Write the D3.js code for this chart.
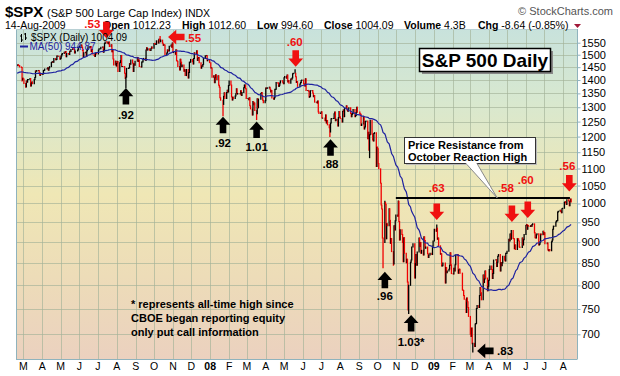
<!DOCTYPE html>
<html><head><meta charset="utf-8">
<script src="https://cdn.jsdelivr.net/npm/d3@7"></script>
<style>
body{margin:0;background:#fff}
svg{display:block}
text{font-family:Arial,"Liberation Sans",sans-serif}
</style>
</head><body>
<svg id="c" width="620" height="376"></svg>
<script>
// ---------------- DATA ----------------
// daily closes before the visible window (Dec 2006 - 15 Feb 2007), used for the 50-day MA
const priorCloses = [
 1396,1409,1413,1412,1407,1409,1395,1413,1411,1425,1427,1425,1423,1418,1410,1416,1418,1416,1415,1418,
 1416,1418,1410,1414,1413,1415,1424,1430,1431,1431,1426,1431,1423,1428,1441,1424,1423,1421,1428,1438,
 1445,1448,1447,1450,1451,1449,1438,1433,1444,1456,1457
];
const closes2007 = [
 1456,1460,1457,1456,1451,1449,1400,1407,
 1404,1387,1374,1396,1392,1402,1402,1406,1377,1388,1393,1386,1402,1410,1435,1434,1437,1437,1429,1418,1423,1421,
 1424,1437,1438,1443,1444,1448,1438,1447,1452,1469,1471,1472,1470,1485,1480,1481,1495,1494,1494,1482,
 1486,1495,1502,1505,1510,1508,1513,1492,1505,1503,1501,1514,1513,1522,1525,1524,1522,1507,1515,1519,1531,1531,
 1536,1540,1531,1517,1491,1508,1510,1494,1516,1523,1533,1531,1534,1513,1522,1503,1497,1493,1506,1506,1503,
 1519,1525,1525,1531,1532,1510,1519,1547,1553,1549,1549,1546,1553,1534,1541,1512,1518,1483,1459,1474,1455,
 1465,1473,1433,1468,1476,1497,1453,1453,1452,1426,1406,1411,1445,1445,1448,1464,1462,1479,1466,1433,1463,1458,1474,
 1489,1473,1479,1453,1451,1471,1471,1483,1485,1477,1519,1529,1519,1525,1518,1517,1525,1532,1527,
 1547,1546,1543,1543,1558,1549,1565,1562,1554,1561,1548,1539,1541,1540,1501,1507,1520,1516,1515,1535,1540,1531,1549,
 1509,1510,1502,1520,1476,1474,1453,1439,1482,1470,1452,1459,1434,1440,1417,1441,1408,1429,1470,1470,1481,
 1472,1463,1485,1508,1505,1516,1477,1486,1489,1468,1446,1455,1454,1461,1485,1496,1497,1476,1478,1468
];
const closes2008 = [
 1447,1447,1411,1416,1390,1409,1420,1401,1416,1380,1373,1334,1325,1310,1339,1352,1331,1353,1362,1355,1379,
 1396,1381,1337,1326,1336,1331,1340,1349,1367,1348,1350,1348,1360,1342,1353,1371,1381,1381,1367,1331,
 1331,1327,1334,1305,1294,1273,1320,1309,1315,1288,1277,1330,1298,1329,1350,1353,1341,1325,1316,1323,
 1370,1368,1370,1370,1373,1365,1355,1361,1333,1329,1334,1365,1365,1391,1388,1376,1380,1389,1397,1396,1390,1386,
 1409,1414,1407,1419,1393,1398,1388,1404,1403,1408,1424,1426,1426,1413,1391,1394,1376,1385,1391,1398,1400,
 1386,1378,1377,1405,1361,1361,1358,1336,1339,1360,1361,1351,1338,1342,1318,1318,1315,1322,1283,1278,1280,
 1284,1262,1262,1253,1273,1245,1254,1239,1229,1215,1245,1260,1261,1261,1277,1283,1253,1258,1235,1264,1285,1267,
 1261,1249,1285,1290,1267,1297,1305,1290,1286,1293,1298,1278,1267,1275,1278,1292,1267,1271,1281,1300,1283,
 1277,1275,1237,1242,1267,1225,1232,1250,1252,1193,1214,1156,1206,1255,1208,1189,1186,1210,1213,1106,1166,
 1161,1115,1099,1057,996,985,910,899,1003,998,908,946,941,986,955,897,909,877,848,941,930,954,969,
 966,1006,952,905,931,919,899,853,911,873,851,859,807,752,800,852,857,888,896,
 816,849,870,845,876,910,889,899,873,880,869,913,904,885,888,872,863,869,873,870,890,903
];
const closes2009 = [
 932,927,935,907,910,891,871,872,843,844,850,805,840,828,832,836,845,874,846,826,
 825,838,832,846,869,870,827,834,836,827,790,789,778,770,743,773,765,753,735,
 700,696,712,682,683,677,720,721,751,757,753,778,795,784,769,823,806,814,832,816,788,798,
 811,835,843,835,815,826,857,858,842,852,866,870,832,851,844,851,866,857,855,873,873,
 878,907,903,920,907,929,909,908,884,893,882,909,908,903,888,887,910,893,906,919,
 942,944,932,942,940,939,942,940,944,946,923,911,910,918,921,893,895,900,920,918,927,919,
 923,896,898,881,879,882,879,901,905,932,940,940,951,954,954,977,979,982,979,975,986,987,
 1003,1005,1002,997,1010,1007,994,1005,1012,1004
];
const holidays = ["2006-12-25","2007-01-01","2007-01-02","2007-01-15","2007-02-19","2007-04-06","2007-05-28",
 "2007-07-04","2007-09-03","2007-11-22","2007-12-25","2008-01-01","2008-01-21","2008-02-18","2008-03-21",
 "2008-05-26","2008-07-04","2008-09-01","2008-11-27","2008-12-25","2009-01-01","2009-01-19","2009-02-16",
 "2009-04-10","2009-05-25","2009-07-03"];
// intraday extremes beyond the close-to-close range
const intradayExtremes = [["2007-02-27",1396],["2007-03-05",1373],["2007-07-16",1555],["2007-08-16",1371],
 ["2007-10-11",1576],["2008-01-22",1270],["2008-03-17",1257],["2008-05-19",1440],["2008-07-15",1200],
 ["2008-09-18",1133],["2008-10-10",839],["2008-10-13",1006],["2008-10-27",845],["2008-11-04",1007],
 ["2008-11-20",748],["2008-11-21",741],["2009-01-06",943],["2009-03-06",667]];
const monthLabels = ["M","A","M","J","J","A","S","O","N","D","08","F","M","A","M","J","J","A","S","O","N","D","09","F","M","A","M","J","J","A"];
const yTicks = [700,750,800,850,900,950,1000,1050,1100,1150,1200,1250,1300,1350,1400,1450,1500,1550];
// annotations: [date, price at arrow tip, label]
const redDown = [["2007-07-15",1569,".53"],["2008-05-20",1452,".60"],["2009-01-06",956,".63"],
 ["2009-05-09",951,".58"],["2009-06-04",961,".60"],["2009-08-11",1033,".56"]];
const redLeft = [["2007-10-24",1574,".55"]];
const blackUp = [["2007-08-16",1370,".92"],["2008-01-22",1267,".92"],["2008-03-17",1250,"1.01"],
 ["2008-07-16",1191,".88"],["2008-10-13",830,".96"],["2008-11-25",738,"1.03*"]];
const blackLeft = [["2009-03-13",669,".83"]];
const resistance = ["2008-10-31","2009-08-12",1015];
const headerVals = [["Open","1012.23"],["High","1012.60"],["Low","994.60"],["Close","1004.09"],["Volume","4.3B"],["Chg","-8.64 (-0.85%)"]];
const footnote = ["* represents all-time high since","CBOE began reporting equity","only put call information"];

// ---------------- LAYOUT ----------------
const svg = d3.select("#c");
const L=16, R=577, T=29, B=359;
const x = d3.scaleTime().domain([new Date(2007,2,1), new Date(2009,7,1)]).range([23.3,563.2]);
const y = d3.scaleLog().domain([700,1550]).range([334.3,42.7]);
const parse = d3.timeParse("%Y-%m-%d");
const fmt = d3.timeFormat("%Y-%m-%d");

// trading dates
const all = priorCloses.concat(closes2007, closes2008, closes2009);
const holSet = new Set(holidays);
const dates = [];
for (let d = new Date(2006,11,1); dates.length < all.length; d = d3.timeDay.offset(d,1)) {
  const wd = d.getDay();
  if (wd>0 && wd<6 && !holSet.has(fmt(d))) dates.push(d);
}
const ext = new Map(intradayExtremes);
const start = priorCloses.length;
const bars = [], ma = [];
for (let i=start;i<all.length;i++){
  const p=all[i-1], c=all[i];
  let hi=Math.max(p,c), lo=Math.min(p,c);
  const e=ext.get(fmt(dates[i]));
  if(e!==undefined){hi=Math.max(hi,e);lo=Math.min(lo,e);}
  bars.push({date:dates[i],hi,lo,up:c>=p});
  ma.push({date:dates[i], v:d3.mean(all.slice(i-49,i+1))});
}

const defs = svg.append("defs");
const g = defs.append("linearGradient").attr("id","bg").attr("x1",0).attr("y1",0).attr("x2",0).attr("y2",1);
[["0%","#c8e2dc"],["22%","#d8e8cf"],["50%","#efe7b5"],["75%","#eddcb8"],["100%","#ebd1bf"]]
  .forEach(([o,c])=>g.append("stop").attr("offset",o).attr("stop-color",c));
defs.append("clipPath").attr("id","clip").append("rect").attr("x",L).attr("y",T).attr("width",R-L).attr("height",B-T);

svg.append("rect").attr("x",L).attr("y",T).attr("width",R-L).attr("height",B-T).attr("fill","url(#bg)");

// grid
const grid = svg.append("g").attr("stroke","#a3b298").attr("stroke-opacity",0.65).attr("stroke-width",1);
yTicks.forEach(t=>grid.append("line").attr("x1",L).attr("x2",R).attr("y1",Math.round(y(t))+0.5).attr("y2",Math.round(y(t))+0.5));
const months = d3.timeMonth.range(new Date(2007,2,1), new Date(2009,8,1));
months.forEach(m=>grid.append("line").attr("y1",T).attr("y2",B).attr("x1",Math.round(x(m))+0.5).attr("x2",Math.round(x(m))+0.5));

const plot = svg.append("g").attr("clip-path","url(#clip)");
plot.selectAll("line.bar").data(bars).join("line").attr("class","bar")
  .attr("x1",d=>x(d.date)).attr("x2",d=>x(d.date))
  .attr("y1",d=>y(d.lo)+0.5).attr("y2",d=>y(d.hi)-0.5)
  .attr("stroke",d=>d.up?"#000":"#f00000").attr("stroke-width",1.3);

plot.append("path").datum(ma).attr("fill","none").attr("stroke","#1e22a0").attr("stroke-width",1.2)
  .attr("d",d3.line().x(d=>x(d.date)).y(d=>y(d.v)));

// resistance line
plot.append("line").attr("x1",x(parse(resistance[0]))).attr("x2",x(parse(resistance[1])))
  .attr("y1",y(resistance[2])).attr("y2",y(resistance[2])).attr("stroke","#000").attr("stroke-width",2);

// borders
const bc="#8fb3bd";
svg.append("line").attr("x1",L+0.5).attr("x2",L+0.5).attr("y1",T).attr("y2",B+0.5).attr("stroke",bc);
svg.append("line").attr("x1",L).attr("x2",R).attr("y1",B+0.5).attr("y2",B+0.5).attr("stroke",bc);
svg.append("line").attr("x1",L).attr("x2",R).attr("y1",T+0.5).attr("y2",T+0.5).attr("stroke","#b8d0d4");
svg.append("line").attr("x1",R+0.5).attr("x2",R+0.5).attr("y1",T).attr("y2",B+0.5).attr("stroke",bc);

// right axis
const ax = svg.append("g").attr("transform",`translate(${R+0.5},0)`)
  .call(d3.axisRight(y).tickValues(yTicks).tickSize(3).tickSizeOuter(0).tickPadding(1).tickFormat(d=>d));
ax.select(".domain").remove();
ax.selectAll(".tick line").attr("stroke",bc);
ax.selectAll(".tick text").attr("font-size",11).attr("font-family","Arial, Liberation Sans, sans-serif").attr("fill","#000");

// bottom month labels
svg.append("g").selectAll("text").data(months).join("text")
  .attr("x",d=>x(d)).attr("y",370).attr("text-anchor","middle").attr("font-size",10.5)
  .attr("font-weight",(d,i)=>monthLabels[i].length>1?"bold":"normal")
  .text((d,i)=>monthLabels[i]);

// header
const h1 = svg.append("text").attr("x",5).attr("y",16.5);
h1.append("tspan").attr("font-size",15).attr("font-weight","bold").text("$SPX");
h1.append("tspan").attr("x",47).attr("font-size",11).text("(S&P 500 Large Cap Index)");
h1.append("tspan").attr("x",185).attr("font-size",10.5).text("INDX");
svg.append("text").attr("x",613).attr("y",15).attr("text-anchor","end").attr("font-size",11).attr("fill","#555").text("\u00A9 StockCharts.com");
svg.append("text").attr("x",5).attr("y",29).attr("font-size",10.5).text("14-Aug-2009");
const hx = [103,182,257,324,404,478];
headerVals.forEach(([k,v],i)=>{
  const t = svg.append("text").attr("x",hx[i]).attr("y",29).attr("font-size",10.5);
  t.append("tspan").attr("font-weight","bold").text(k);
  t.append("tspan").text(" "+v);
});
svg.append("path").attr("d","M574,24h7l-3.5,4z").attr("fill","#a01838");

// arrows
const arrowD = "M0,0L7.4,8.2L3.3,8.2L3.3,16.5L-3.3,16.5L-3.3,8.2L-7.4,8.2Z";
function arrow(dateStr, price, rot, color){
  svg.append("path").attr("d",arrowD).attr("fill",color)
    .attr("transform",`translate(${x(parse(dateStr))},${y(price)}) rotate(${rot})`);
}
function label(dateStr, price, txt, dx, dy, color, anchor){
  svg.append("text").attr("x",x(parse(dateStr))+dx).attr("y",y(price)+dy)
    .attr("text-anchor",anchor||"middle").attr("font-size",11.5).attr("font-weight","bold")
    .attr("fill",color).text(txt);
}
const redLabelOff = [[-14,-10.5],[-1,-21],[0,-28],[-6,-30],[-2,-34],[-2,-22]];
redDown.forEach(([d,p,t],i)=>{arrow(d,p,180,"#f01010"); label(d,p,t,redLabelOff[i][0],redLabelOff[i][1],"#f01010");});
redLeft.forEach(([d,p,t])=>{arrow(d,p,-90,"#f01010"); label(d,p,t,17,5,"#f01010","start");});
const blackLabelOff = [31,30,29,29,28,31];
blackUp.forEach(([d,p,t],i)=>{arrow(d,p,0,"#000"); label(d,p,t,0,blackLabelOff[i],"#000");});
blackLeft.forEach(([d,p,t])=>{arrow(d,p,-90,"#000"); label(d,p,t,20,4.5,"#000","start");});

// legend inside plot
const lg = svg.append("g");
lg.append("path").attr("d","M21.5,34v8M20,36h1.5M21.5,40h1.5M25.5,33v7M24,34h1.5M25.5,38h1.5").attr("stroke","#000").attr("fill","none");
lg.append("text").attr("x",31).attr("y",40.5).attr("font-size",10).attr("fill","#000").text("$SPX (Daily) 1004.09");
lg.append("line").attr("x1",20).attr("x2",28).attr("y1",46.5).attr("y2",46.5).attr("stroke","#1e22a0").attr("stroke-width",2);
lg.append("text").attr("x",29.5).attr("y",50).attr("font-size",10).attr("fill","#1e22a0").text("MA(50) 944.87");

// title box
svg.append("rect").attr("x",422).attr("y",51).attr("width",131).attr("height",23).attr("fill","#888");
svg.append("rect").attr("x",419.5).attr("y",48.5).attr("width",131).attr("height",23).attr("fill","#fff").attr("stroke","#000").attr("stroke-width",1.5);
svg.append("text").attr("x",485).attr("y",66.5).attr("text-anchor","middle").attr("font-size",19).attr("font-weight","bold").text("S&P 500 Daily");

// resistance callout
svg.append("rect").attr("x",406).attr("y",139).attr("width",131).attr("height",26).attr("fill","#bbb");
svg.append("rect").attr("x",404.5).attr("y",137.5).attr("width",131).attr("height",26).attr("fill","#fff").attr("stroke","#333");
svg.append("path").attr("d",`M466,163.5L${x(parse("2009-04-15"))},${y(resistance[2])}L477,163.5`).attr("fill","#fff").attr("stroke","#888");
svg.append("line").attr("x1",466.5).attr("x2",476.5).attr("y1",163.5).attr("y2",163.5).attr("stroke","#fff").attr("stroke-width",1.5);
svg.append("text").attr("x",408).attr("y",148.5).attr("font-size",11).attr("font-weight","bold").text("Price Resistance from");
svg.append("text").attr("x",408).attr("y",161).attr("font-size",11).attr("font-weight","bold").text("October Reaction High");

// footnote
footnote.forEach((t,i)=>svg.append("text").attr("x",131).attr("y",307.5+i*14).attr("font-size",11).attr("font-weight","bold").text(t));
</script>
</body></html>
